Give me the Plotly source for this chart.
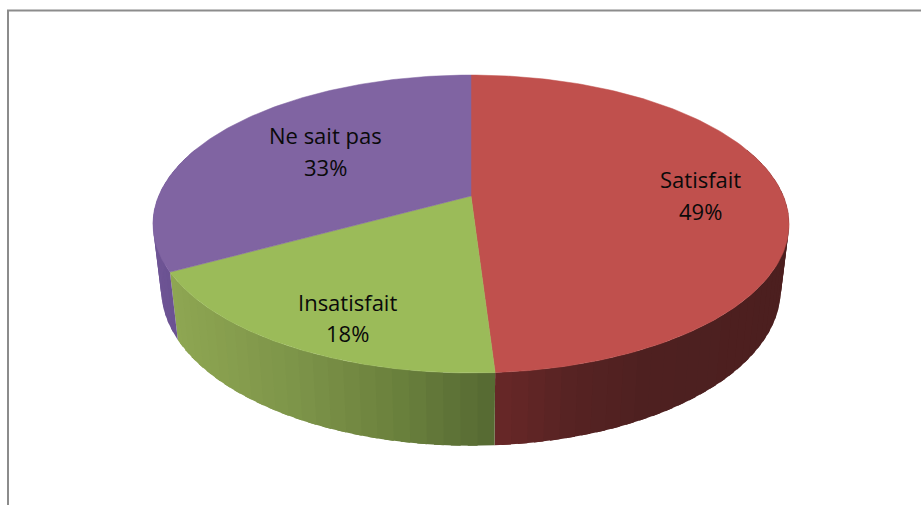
import numpy as np
import plotly.graph_objects as go

categories = ["Satisfait", "Insatisfait", "Ne sait pas"]
values = [49, 18, 33]
top_colors = ["#c0504d", "#9bbb59", "#8064a2"]
# side-wall colour stops: (screen x, colour) per slice
side_stops = [
    [(495, (104, 40, 40)), (560, (88, 35, 35)), (640, (78, 32, 32)), (790, (76, 31, 31))],
    [(175, (142, 166, 82)), (300, (124, 147, 72)), (400, (105, 127, 60)), (495, (84, 104, 50))],
    [(150, (112, 86, 150)), (180, (104, 80, 144))],
]
label_xy = [(700, 179, 211), (347.5, 302, 333), (325, 135, 167)]
font = dict(family="'Open Sans', sans-serif", size=22, color="#0a0a0a")

# projection of the pie disc onto the 921x505 data space
CX, CY, A, B, K = 471.0, 196.0, 312.4, 143.7, 0.188
SX, SY, CY_LOW = 0.974, 1.05, 260.0


def project(theta, radius=1.0):
    u, v = radius * np.sin(theta), -radius * np.cos(theta)
    w = 1 - K * v
    return A * u / w, B * v / w


def top(theta):
    dx, dy = project(theta)
    return CX + dx, CY + dy


def low(theta):
    dx, dy = project(theta)
    return CX + SX * dx, CY_LOW + SY * dy


def shade(stops, x):
    xs = [s[0] for s in stops]
    rgb = [float(np.interp(x, xs, [s[1][i] for s in stops])) for i in range(3)]
    return "rgb(%d,%d,%d)" % tuple(round(c) for c in rgb)


fig = go.Figure()
edges = np.cumsum([0] + values) / sum(values) * 2 * np.pi

# side wall, drawn as thin overlapping strips so that the shading varies along the rim
for i in range(len(values)):
    a0, a1 = edges[i], edges[i + 1]
    lo, hi = max(a0, np.radians(70)), min(a1, np.radians(290))
    if hi <= lo:
        continue
    n = max(2, int(np.degrees(hi - lo) / 2.5))
    ts = np.linspace(lo, hi, n + 1)
    for t0, t1 in zip(ts[:-1], ts[1:]):
        # extend each strip into the next one; the next strip paints over the overlap
        seg = np.linspace(t0, min(t1 + np.radians(1.5), hi), 5)
        tx, ty = top(seg)
        bx, by = low(seg[::-1])
        xs = np.r_[tx, bx, tx[0]]
        ys = np.r_[ty, by, ty[0]]
        col = shade(side_stops[i], xs.mean())
        fig.add_trace(go.Scatter(x=xs, y=ys, mode="lines", fill="toself", fillcolor=col,
                                 line=dict(width=0), hoverinfo="skip", showlegend=False))

# top face
for i, name in enumerate(categories):
    seg = np.linspace(edges[i], edges[i + 1], 160)
    tx, ty = top(seg)
    xs = np.r_[CX, tx, CX]
    ys = np.r_[CY, ty, CY]
    fig.add_trace(go.Scatter(x=xs, y=ys, mode="lines", fill="toself", fillcolor=top_colors[i],
                             line=dict(color=top_colors[i], width=0.5), name=name,
                             hoverinfo="name", showlegend=False))

# labels
annotations = []
for i, name in enumerate(categories):
    x, y1, y2 = label_xy[i]
    pct = round(values[i] / sum(values) * 100)
    annotations.append(dict(x=x, y=y1, text=name, showarrow=False, font=font, xanchor="center", yanchor="middle"))
    annotations.append(dict(x=x, y=y2, text=f"{pct}%", showarrow=False, font=font, xanchor="center", yanchor="middle"))

fig.update_layout(
    width=921, height=505, margin=dict(l=0, r=0, t=0, b=0),
    paper_bgcolor="white", plot_bgcolor="white",
    xaxis=dict(range=[0, 921], visible=False, fixedrange=True),
    yaxis=dict(range=[505, 0], visible=False, fixedrange=True),
    annotations=annotations,
    shapes=[
        dict(type="line", xref="x", yref="y", x0=7, x1=921, y0=10.5, y1=10.5, line=dict(color="#8c8c8c", width=2)),
        dict(type="line", xref="x", yref="y", x0=8, x1=8, y0=10, y1=505, line=dict(color="#8c8c8c", width=2)),
    ],
)
fig.write_html("out.html", config={"displayModeBar": False},
               post_script="document.body.style.margin='0';document.documentElement.style.overflow='hidden';")
